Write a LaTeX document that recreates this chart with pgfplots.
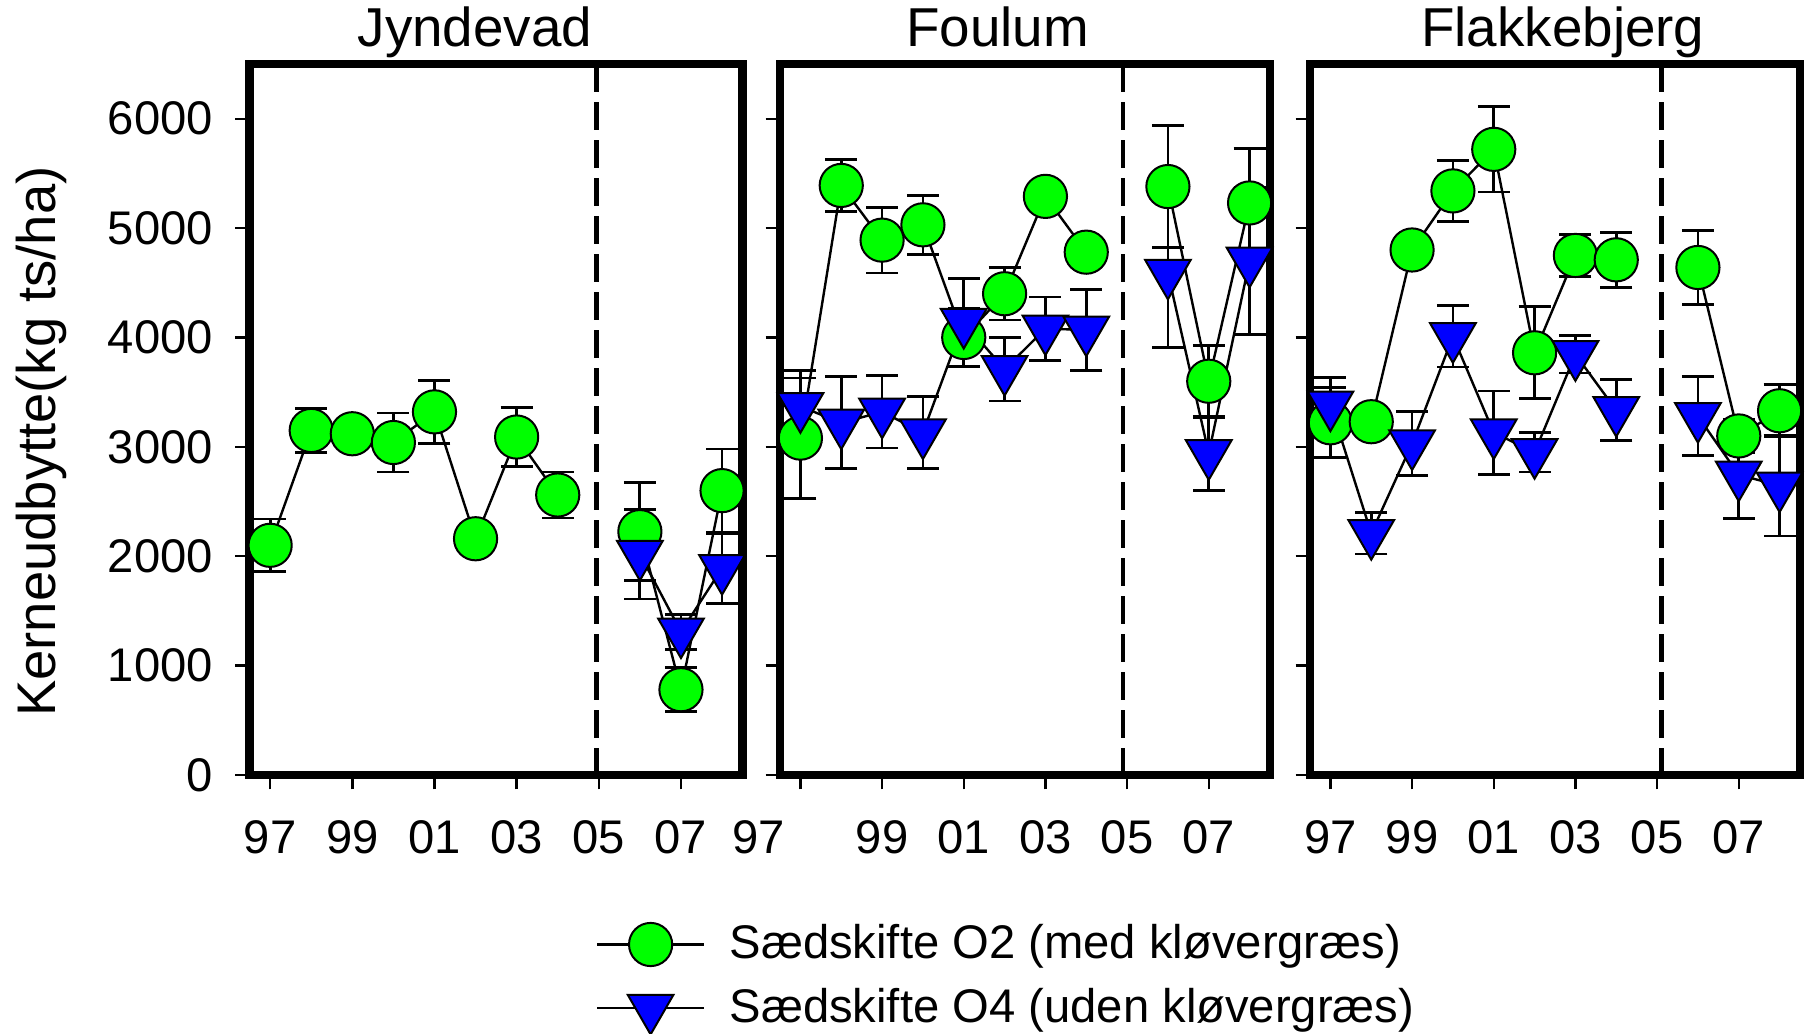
\documentclass[border=0pt]{standalone}
\usepackage{fontspec}
\setmainfont{Liberation Sans}
\usepackage{pgfplots}
\usepackage{pgfplotstable}
\pgfplotsset{compat=1.18}
\definecolor{mygreen}{HTML}{00FF00}
\definecolor{myblue}{HTML}{0000FF}

% x = year - 1997
\pgfplotstableread{
x y e
0 2100 240
1 3150 200
2 3120 80
3 3040 270
4 3320 290
5 2160 80
6 3090 270
7 2560 210
8 nan 0
9 2225 450
10 780 200
11 2600 380
}\JyO
\pgfplotstableread{
x y e
9 2020 410
10 1310 160
11 1890 320
}\JyF
\pgfplotstableread{
x y e
0 3080 550
1 5390 240
2 4890 300
3 5030 270
4 4000 270
5 4400 240
6 5290 80
7 4780 80
8 nan 0
9 5380 560
10 3600 330
11 5230 500
}\FoO
\pgfplotstableread{
x y e
0 3370 330
1 3220 420
2 3320 330
3 3130 330
4 4140 400
5 3710 290
6 4080 290
7 4070 370
8 nan 0
9 4590 680
10 2940 340
11 4700 670
}\FoF
\pgfplotstableread{
x y e
0 3220 320
1 3230 80
2 4800 80
3 5340 280
4 5720 390
5 3860 420
6 4750 190
7 4710 250
8 nan 0
9 4640 340
10 3100 150
11 3330 240
}\FlO
\pgfplotstableread{
x y e
0 3385 250
1 2210 190
2 3030 290
3 4010 280
4 3130 380
5 2950 180
6 3845 170
7 3335 280
8 nan 0
9 3280 360
10 2745 400
11 2645 460
}\FlF

\pgfplotsset{
  panel/.style={
    scale only axis, anchor=south west,
    height=177.75pt,
    xmin=-0.5, xmax=11.5, ymin=0, ymax=6500,
    clip=false,
    axis line style={line width=2.1pt, black},
    tick align=outside, xtick pos=left, ytick pos=left,
    major tick length=3.6pt,
    tick style={line width=0.6pt, black},
    ytick={0,1000,2000,3000,4000,5000,6000},
    yticklabels={},
    xtick={0,2,4,6,8,10},
    xticklabels={97,99,01,03,05,07},
    tick label style={font=\fontsize{11.8}{14}\selectfont},
    xticklabel style={anchor=north, inner sep=0pt, yshift=-7.5pt},
    yticklabel style={anchor=east, inner sep=0pt, xshift=-5.4pt},
    title style={anchor=base, yshift=-1.5pt, inner sep=0pt, font=\fontsize{13.7}{16}\selectfont},
    unbounded coords=jump,
  },
  gser/.style={black, line width=0.6pt, mark=*, mark size=5.4pt,
    mark options={fill=mygreen, draw=black, line width=0.5pt},
    error bars/.cd, y dir=both, y explicit,
    error bar style={line width=0.7pt, black},
    error mark options={rotate=90, black, line width=0.7pt, mark size=4pt}},
  bser/.style={black, line width=0.6pt, mark=triangle*, mark size=6.6pt,
    mark options={fill=myblue, draw=black, line width=0.5pt, rotate=180},
    error bars/.cd, y dir=both, y explicit,
    error bar style={line width=0.7pt, black},
    error mark options={rotate=90, black, line width=0.7pt, mark size=4pt}},
  dline/.style={black, line width=1.2pt, dash pattern=on 7pt off 2.5pt, forget plot},
}

\begin{document}
\begin{tikzpicture}
% Panel 1
\begin{axis}[panel, at={(62.4pt,64.5pt)}, width=123.25pt,
  yticklabels={0,1000,2000,3000,4000,5000,6000},
  title={Jyndevad}, title style={at={(axis description cs:0.457,1)}},
  ylabel={Kerneudbytte(kg ts/ha)},
  ylabel style={at={(axis description cs:-0.3945,0.469)}, anchor=base, inner sep=0pt, font=\fontsize{13.6}{16}\selectfont},
]
\addplot[dline] coordinates {(7.95,6500) (7.95,0)};
\addplot[gser] table[x=x,y=y,y error=e] {\JyO};
\addplot[bser] table[x=x,y=y,y error=e] {\JyF};
\end{axis}
% Panel 2
\begin{axis}[panel, at={(195pt,64.5pt)}, width=122.5pt,
  xtick={2,4,6,8,10}, xticklabels={99,01,03,05,07},
  extra x ticks={0}, extra x tick labels={97},
  extra x tick style={tick style={line width=0.6pt, black}, xticklabel style={xshift=-10.5pt}},
  title={Foulum}, title style={at={(axis description cs:0.444,1)}},
  legend style={at={(axis description cs:-0.3755,-0.208)}, anchor=north west,
    draw=none, fill=none, inner sep=0pt, outer sep=0pt,
    font=\fontsize{11.8}{14}\selectfont, row sep=5.45pt, column sep=6.1pt,
    nodes={inner sep=0pt}},
  legend cell align=left,
  legend image code/.code={\draw[mark repeat=2,mark phase=2,#1] plot coordinates {(0pt,0pt) (13.35pt,0pt) (26.7pt,0pt)};},
]
\addplot[dline] coordinates {(7.9,6500) (7.9,0)};
\addplot[gser] table[x=x,y=y,y error=e] {\FoO};
\addlegendentry{Sædskifte O2 (med kløvergræs)}
\addplot[bser] table[x=x,y=y,y error=e] {\FoF};
\addlegendentry{Sædskifte O4 (uden kløvergræs)}
\end{axis}
% Panel 3
\begin{axis}[panel, at={(327.5pt,64.5pt)}, width=122.5pt,
  title={Flakkebjerg}, title style={at={(axis description cs:0.516,1)}},
]
\addplot[dline] coordinates {(8.1,6500) (8.1,0)};
\addplot[gser] table[x=x,y=y,y error=e] {\FlO};
\addplot[bser] table[x=x,y=y,y error=e] {\FlF};
\end{axis}
\pgfresetboundingbox
\path[use as bounding box] (0,0) rectangle (453pt,258.25pt);
\end{tikzpicture}
\end{document}
